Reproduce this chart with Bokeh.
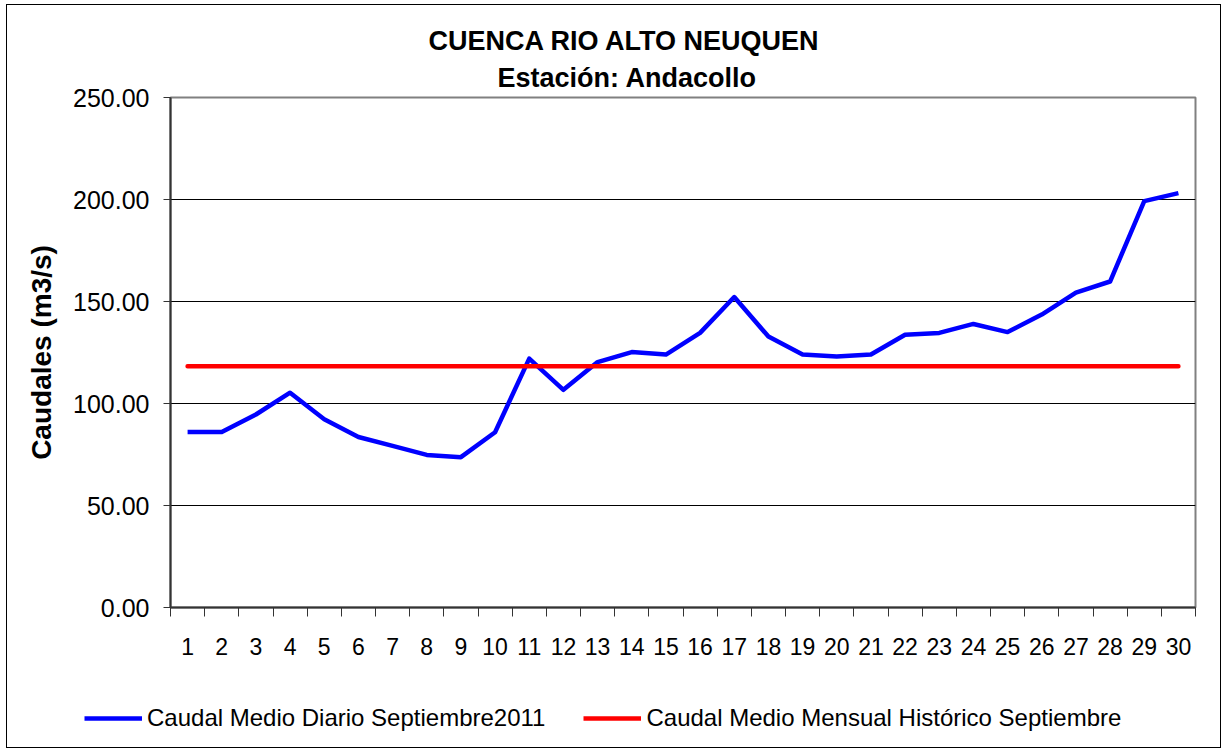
from bokeh.plotting import figure
from bokeh.models import (Range1d, FixedTicker, PrintfTickFormatter, Title, Legend, LegendItem)
from bokeh.embed import file_html
from bokeh.resources import INLINE

# ---- data ----
days = list(range(1, 31))
caudal_diario = [86.0, 86.0, 94.6, 105.3, 92.3, 83.6, 79.2, 74.8, 73.7, 85.9,
                 122.0, 106.7, 120.3, 125.2, 124.0, 134.6, 152.2, 132.8, 124.0, 123.0,
                 124.0, 133.7, 134.6, 139.0, 135.0, 143.6, 154.4, 159.8, 199.2, 203.1]
caudal_historico = [118.3] * 30
y_ticks = [0, 50, 100, 150, 200, 250]
title_1 = "CUENCA RIO ALTO NEUQUEN"
title_2 = "Estación: Andacollo"
y_label = "Caudales (m3/s)"
serie_1 = "Caudal Medio Diario Septiembre2011"
serie_2 = "Caudal Medio Mensual Histórico Septiembre"

FONT = "Liberation Sans"
BLUE = "#0000FF"
RED = "#FF0000"

p = figure(width=1215, height=685, output_backend="svg", toolbar_location=None,
           x_range=Range1d(0.5, 30.5), y_range=Range1d(0, 250),
           min_border_left=163, min_border_right=27, min_border_top=92,
           min_border_bottom=83)
p.margin = (4, 0, 0, 6)
p.styles = {"border": "1px solid black", "border-bottom": "none"}

p.background_fill_color = "white"
p.border_fill_color = "white"
p.outline_line_color = "#808080"
p.outline_line_width = 2

# x axis
p.xaxis.ticker = FixedTicker(ticks=days, minor_ticks=[d - 0.5 for d in days] + [30.5])
p.xaxis.major_tick_out = 0
p.xaxis.major_tick_in = 0
p.xaxis.minor_tick_out = 9
p.xaxis.minor_tick_in = 0
p.xaxis.minor_tick_line_color = "#333333"
p.xaxis.minor_tick_line_width = 1
p.xaxis.axis_line_color = "#333333"
p.xaxis.axis_line_width = 2
p.xaxis.major_label_text_font = FONT
p.xaxis.major_label_text_font_size = "23px"
p.xaxis.major_label_text_color = "black"
p.xaxis.major_label_standoff = 21

# y axis
p.yaxis.ticker = FixedTicker(ticks=y_ticks, minor_ticks=[])
p.yaxis.formatter = PrintfTickFormatter(format="%.2f")
p.yaxis.major_tick_out = 7
p.yaxis.major_tick_in = 0
p.yaxis.major_tick_line_color = "#333333"
p.yaxis.axis_line_color = "#333333"
p.yaxis.axis_line_width = 2
p.yaxis.major_label_text_font = FONT
p.yaxis.major_label_text_font_size = "25px"
p.yaxis.major_label_text_color = "black"
p.yaxis.major_label_standoff = 14
p.yaxis.axis_label = y_label
p.yaxis.axis_label_text_font = FONT
p.yaxis.axis_label_text_font_size = "28px"
p.yaxis.axis_label_text_font_style = "bold"
p.yaxis.axis_label_text_color = "black"
p.yaxis.axis_label_standoff = 13

# grid
p.xgrid.grid_line_color = None
p.ygrid.grid_line_color = "black"
p.ygrid.grid_line_width = 1

# lines
p.line(days, caudal_diario, line_color=BLUE, line_width=4.5, line_join="round")
p.line(days, caudal_historico, line_color=RED, line_width=4.5, line_cap="round")

# titles (first added sits closest to the plot)
p.add_layout(Title(text=title_2, align="left", offset=327, text_font=FONT,
                   text_font_size="27px", text_font_style="bold", text_color="black",
                   standoff=10), "above")
p.add_layout(Title(text=title_1, align="left", offset=258, text_font=FONT,
                   text_font_size="27px", text_font_style="bold", text_color="black",
                   standoff=0), "above")

# legend strip below the chart (its own frame spans the full width)
q = figure(width=1215, height=59, output_backend="svg", toolbar_location=None,
           x_range=Range1d(0.5, 30.5), y_range=Range1d(0, 250),
           x_axis_type=None, y_axis_type=None, min_border=0)
q.margin = (0, 0, 0, 6)
q.styles = {"border": "1px solid black", "border-top": "none"}
q.outline_line_color = None
q.xgrid.grid_line_color = None
q.ygrid.grid_line_color = None
q.background_fill_color = "white"
q.border_fill_color = "white"
l1 = q.line(days, caudal_diario, line_color=BLUE, line_width=4.5, visible=False)
l2 = q.line(days, caudal_historico, line_color=RED, line_width=4.5, visible=False)
legend = Legend(items=[LegendItem(label=serie_1, renderers=[l1]),
                       LegendItem(label=serie_2, renderers=[l2])],
                orientation="horizontal", location=(77, 16),
                label_text_font=FONT, label_text_font_size="24px", label_text_color="black",
                glyph_width=58, glyph_height=20, label_standoff=5, spacing=38,
                padding=0, margin=0, border_line_color=None, background_fill_alpha=0,
                inactive_fill_alpha=0)
q.add_layout(legend, "center")

open("out.html", "w").write(file_html([p, q], INLINE))
